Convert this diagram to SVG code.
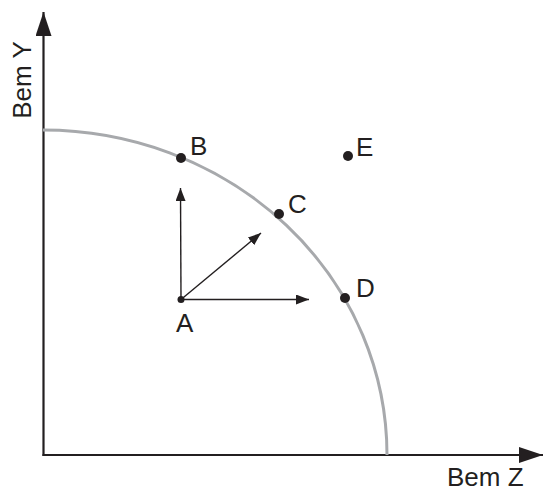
<svg xmlns="http://www.w3.org/2000/svg" width="544" height="491" viewBox="0 0 544 491">
<style>
text{font-family:"Liberation Sans",Arial,sans-serif;font-size:26px;fill:#231f20}
.ax{stroke:#231f20;stroke-width:2.2;fill:none}
.vec{stroke:#231f20;stroke-width:1.4;fill:none}
.dot{fill:#231f20}
</style>
<defs>
<marker id="big" viewBox="0 0 24 16" refX="24" refY="8" markerWidth="24" markerHeight="16" markerUnits="userSpaceOnUse" orient="auto"><path d="M0,0 L24,8 L0,16 Z" fill="#231f20"/></marker>
<marker id="sm" viewBox="0 0 13 10" refX="13" refY="5" markerWidth="13" markerHeight="10" markerUnits="userSpaceOnUse" orient="auto"><path d="M0,0 L13,5 L0,10 Z" fill="#231f20"/></marker>
</defs>
<g id="axes">
<path class="ax" d="M43.5,456 L43.5,12" marker-end="url(#big)"/>
<path class="ax" d="M42.5,455 L543,455" marker-end="url(#big)"/>
</g>
<g id="curve"><path d="M43,130 A344,325 0 0 1 387,455" stroke="#a7a9ac" stroke-width="3" fill="none"/></g>
<g id="connectors">
<path class="vec" d="M181,299.5 L180.5,188" marker-end="url(#sm)"/>
<path class="vec" d="M181,299.5 L261,233" marker-end="url(#sm)"/>
<path class="vec" d="M181,299.5 L309,299.5" marker-end="url(#sm)"/>
</g>
<g id="A"><circle class="dot" cx="181" cy="299.5" r="3.5"/><text x="176" y="332">A</text></g>
<g id="B"><circle class="dot" cx="181" cy="158" r="5"/><text x="190" y="155">B</text></g>
<g id="C"><circle class="dot" cx="279" cy="214" r="5"/><text x="288" y="213">C</text></g>
<g id="D"><circle class="dot" cx="345" cy="298" r="5"/><text x="356" y="297">D</text></g>
<g id="E"><circle class="dot" cx="348" cy="156" r="5"/><text x="356" y="156">E</text></g>
<g id="labels">
<text x="447" y="486">Bem Z</text>
<text transform="translate(31,80) rotate(-90)" text-anchor="middle">Bem Y</text>
</g>
</svg>
